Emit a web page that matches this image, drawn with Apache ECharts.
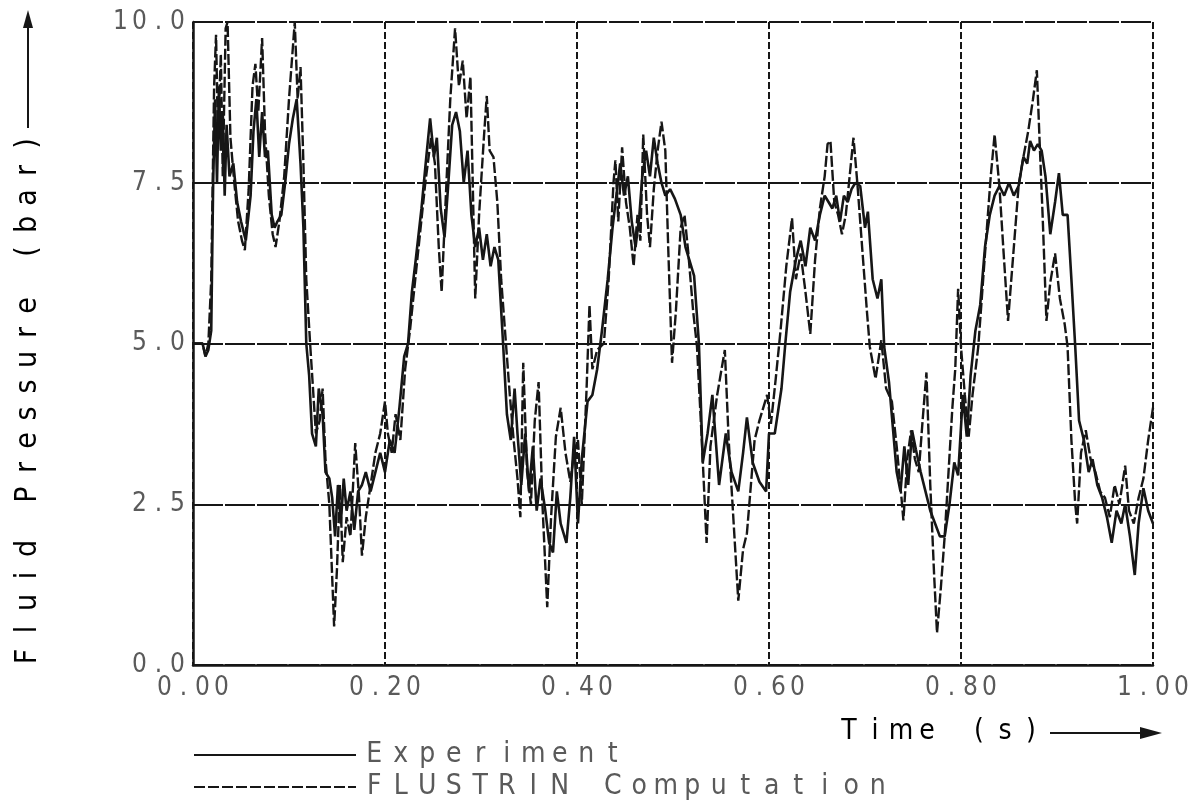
<!DOCTYPE html>
<html>
<head>
<meta charset="utf-8">
<title>Fluid Pressure</title>
<script src="https://cdn.jsdelivr.net/npm/echarts@6/dist/echarts.min.js"></script>
<style>
  html, body { margin: 0; padding: 0; background: #fff; }
  #chart { width: 1195px; height: 808px; }
</style>
</head>
<body>
<div id="chart"></div>
<script>
// tick labels
var xTickLabels = ['0.00', '0.20', '0.40', '0.60', '0.80', '1.00'];
var yTickLabels = ['0.0', '2.5', '5.0', '7.5', '10.0'];

// measured pressure [time s, bar]
var experiment = [
  [0,5.0],[0.010,5.0],[0.013,4.8],[0.016,4.9],[0.019,5.2],[0.021,7.5],[0.023,8.8],[0.025,7.5],[0.027,9.0],[0.029,8.0],
  [0.031,8.6],[0.033,7.3],[0.035,8.4],[0.038,7.6],[0.042,7.8],[0.046,7.2],[0.050,6.9],[0.055,6.6],[0.060,7.3],[0.063,8.3],
  [0.066,8.8],[0.069,7.9],[0.072,8.6],[0.075,7.9],[0.078,8.0],[0.082,7.0],[0.085,6.8],[0.088,6.9],[0.092,7.0],[0.096,7.5],
  [0.100,8.1],[0.104,8.5],[0.108,8.8],[0.112,7.8],[0.115,6.8],[0.118,5.0],
  [0.121,4.5],[0.124,3.6],[0.128,3.4],[0.131,4.3],[0.135,3.9],[0.138,3.0],[0.142,2.9],[0.145,2.6],[0.148,2.0],[0.151,2.8],
  [0.154,2.2],[0.157,2.9],[0.160,2.4],[0.164,2.7],[0.168,2.1],[0.172,2.7],[0.176,2.8],[0.180,3.0],[0.185,2.7],[0.190,3.0],
  [0.195,3.3],[0.200,3.0],[0.205,3.5],[0.210,3.3],[0.215,4.0],[0.220,4.8],[0.224,5.0],
  [0.228,5.8],[0.232,6.3],[0.238,7.1],[0.243,7.9],[0.247,8.5],[0.251,7.9],[0.254,8.2],[0.258,7.1],[0.262,6.65],[0.266,7.5],
  [0.270,8.4],[0.274,8.6],[0.278,8.3],[0.282,7.5],[0.286,8.0],[0.290,7.0],[0.294,6.5],[0.298,6.8],[0.302,6.3],[0.306,6.7],
  [0.310,6.2],[0.314,6.5],[0.318,6.3],[0.323,5.0],
  [0.327,3.9],[0.331,3.5],[0.335,4.3],[0.338,3.6],[0.342,2.8],[0.346,3.6],[0.350,2.7],[0.354,3.4],[0.358,2.4],[0.362,2.9],
  [0.367,2.4],[0.371,1.9],[0.375,1.75],[0.379,2.7],[0.383,2.2],[0.389,1.9],[0.393,2.6],[0.397,3.55],[0.401,2.2],[0.405,3.2],
  [0.411,4.1],[0.416,4.2],[0.421,4.6],[0.426,5.2],
  [0.432,6.0],[0.437,6.8],[0.441,7.3],[0.445,7.8],[0.449,7.3],[0.453,7.6],[0.457,6.9],[0.461,6.5],[0.465,7.0],[0.468,7.6],
  [0.472,8.0],[0.476,7.6],[0.480,8.2],[0.484,7.8],[0.488,7.5],[0.492,7.3],[0.497,7.4],[0.502,7.25],[0.508,7.0],[0.513,6.5],
  [0.517,6.3],[0.522,6.05],[0.527,5.0],
  [0.531,3.15],[0.536,3.6],[0.541,4.2],[0.548,2.8],[0.555,3.6],[0.561,3.0],[0.568,2.7],[0.573,3.3],[0.577,3.85],[0.583,3.15],
  [0.590,2.85],[0.597,2.7],[0.600,3.6],[0.606,3.6],[0.613,4.3],[0.617,5.0],
  [0.622,5.8],[0.628,6.3],[0.633,6.6],[0.638,6.2],[0.643,6.8],[0.648,6.6],[0.653,7.0],[0.658,7.3],[0.662,7.2],[0.666,7.1],
  [0.670,7.3],[0.674,6.9],[0.678,7.3],[0.682,7.2],[0.686,7.4],[0.690,7.5],[0.695,7.45],[0.700,6.8],[0.703,7.05],[0.708,6.0],
  [0.713,5.7],[0.717,6.0],[0.720,4.95],
  [0.725,4.4],[0.729,3.7],[0.733,3.0],[0.737,2.7],[0.741,3.4],[0.745,2.8],[0.749,3.65],[0.753,3.35],[0.758,3.0],[0.763,2.7],
  [0.768,2.4],[0.773,2.2],[0.778,2.0],[0.783,2.0],[0.788,2.5],[0.793,3.15],[0.797,2.95],[0.802,4.2],[0.806,3.55],[0.810,4.5],
  [0.815,5.2],
  [0.820,5.6],[0.825,6.5],[0.830,7.0],[0.835,7.3],[0.840,7.45],[0.845,7.3],[0.850,7.5],[0.855,7.3],[0.860,7.45],[0.865,7.9],
  [0.869,7.8],[0.872,8.15],[0.876,8.0],[0.880,8.1],[0.884,8.0],[0.888,7.6],[0.893,6.7],[0.898,7.2],[0.902,7.65],[0.906,7.0],
  [0.911,7.0],[0.915,6.0],[0.919,4.95],
  [0.923,3.8],[0.928,3.5],[0.933,3.0],[0.937,3.2],[0.942,2.8],[0.947,2.6],[0.952,2.3],[0.957,1.9],[0.962,2.4],[0.967,2.2],
  [0.971,2.5],[0.976,2.0],[0.981,1.4],[0.985,2.2],[0.990,2.75],[0.995,2.4],[1.0,2.2]
];

// FLUSTRIN computed pressure [time s, bar]
var computation = [
  [0,5.0],[0.010,5.0],[0.013,4.8],[0.016,5.0],[0.019,6.0],[0.022,9.0],[0.024,9.8],[0.026,8.2],[0.029,9.5],[0.031,7.6],
  [0.034,9.9],[0.036,10.0],[0.039,8.2],[0.043,7.5],[0.047,6.9],[0.051,6.6],[0.054,6.45],[0.058,7.4],[0.062,9.0],[0.065,9.35],
  [0.068,8.6],[0.072,9.75],[0.075,8.3],[0.079,7.3],[0.083,6.7],[0.086,6.5],[0.090,6.9],[0.095,7.6],[0.100,8.8],[0.104,9.6],
  [0.106,10.0],[0.109,8.8],[0.112,9.3],[0.115,7.8],[0.118,6.0],[0.122,5.0],
  [0.125,4.3],[0.128,3.6],[0.132,3.8],[0.135,4.3],[0.138,3.2],[0.142,2.5],[0.147,0.6],[0.150,1.5],[0.153,2.8],[0.156,1.6],
  [0.160,2.3],[0.164,2.0],[0.169,3.45],[0.173,2.6],[0.176,1.7],[0.180,2.3],[0.185,2.8],[0.190,3.3],[0.195,3.6],[0.200,4.1],
  [0.203,3.6],[0.207,3.3],[0.211,3.9],[0.216,3.5],[0.221,4.6],[0.226,5.2],
  [0.235,6.5],[0.242,7.5],[0.248,8.2],[0.252,7.8],[0.256,6.5],[0.259,5.8],[0.264,7.5],[0.268,8.8],[0.273,9.9],[0.277,9.0],
  [0.281,9.4],[0.285,8.5],[0.289,9.15],[0.294,5.7],[0.298,7.0],[0.303,8.2],[0.306,8.85],[0.309,8.0],[0.313,7.9],[0.317,7.2],
  [0.321,6.0],[0.326,5.0],
  [0.330,4.2],[0.334,3.5],[0.338,2.9],[0.341,2.3],[0.344,4.7],[0.348,3.0],[0.352,2.5],[0.356,3.8],[0.360,4.4],[0.364,2.5],
  [0.369,0.9],[0.373,2.3],[0.378,3.55],[0.383,4.0],[0.388,3.3],[0.393,2.85],[0.397,3.3],[0.401,3.5],[0.405,2.5],[0.410,4.3],
  [0.413,5.6],[0.416,4.6],[0.421,4.9],[0.428,5.0],
  [0.433,6.0],[0.438,7.5],[0.440,7.85],[0.443,6.9],[0.447,8.05],[0.451,7.2],[0.455,6.8],[0.459,6.2],[0.463,7.0],[0.466,6.6],
  [0.469,8.25],[0.473,7.0],[0.476,6.5],[0.480,7.4],[0.484,8.0],[0.488,8.45],[0.492,8.0],[0.495,6.5],[0.499,4.7],[0.503,5.5],
  [0.508,6.8],[0.512,7.0],[0.516,6.4],[0.521,5.5],[0.525,4.95],
  [0.530,3.5],[0.535,1.9],[0.539,3.4],[0.546,4.2],[0.554,4.9],[0.558,3.5],[0.562,2.5],[0.568,1.0],[0.573,1.8],[0.577,2.05],
  [0.585,3.5],[0.590,3.8],[0.594,4.0],[0.598,4.2],[0.602,3.75],[0.607,4.45],[0.612,5.2],
  [0.618,6.2],[0.624,6.95],[0.628,6.0],[0.633,6.4],[0.638,5.8],[0.643,5.15],[0.648,6.3],[0.653,7.1],[0.658,7.6],[0.661,8.1],
  [0.664,8.15],[0.668,7.2],[0.672,7.0],[0.676,6.7],[0.680,7.0],[0.684,7.6],[0.688,8.2],[0.692,7.5],[0.697,6.5],[0.702,5.5],
  [0.705,4.95],
  [0.711,4.45],[0.717,5.05],[0.722,4.3],[0.728,4.1],[0.733,3.4],[0.738,2.6],[0.740,2.25],[0.744,3.2],[0.748,3.65],[0.752,3.2],
  [0.756,3.0],[0.760,3.8],[0.764,4.55],[0.768,2.8],[0.772,1.4],[0.775,0.5],[0.779,1.2],[0.783,2.0],[0.787,3.0],[0.791,4.0],
  [0.794,4.6],[0.797,5.85],[0.800,4.95],[0.804,4.2],[0.808,3.55],[0.812,4.2],[0.818,4.95],
  [0.826,6.6],[0.831,7.6],[0.835,8.25],[0.840,7.45],[0.844,6.5],[0.849,5.35],[0.854,6.3],[0.860,7.45],[0.865,7.9],[0.870,8.3],
  [0.875,8.8],[0.879,9.25],[0.882,8.1],[0.885,7.0],[0.889,5.35],[0.893,5.95],[0.898,6.4],[0.903,5.7],[0.908,5.3],[0.911,4.95],
  [0.915,3.5],[0.919,2.5],[0.921,2.2],
  [0.925,3.3],[0.930,3.65],[0.935,3.2],[0.940,3.0],[0.945,2.7],[0.950,2.6],[0.955,2.3],[0.960,2.8],[0.965,2.5],[0.971,3.1],
  [0.975,2.4],[0.980,2.2],[0.985,2.6],[0.990,2.9],[0.995,3.5],[1.0,4.0]
];

var seriesNames = ['Experiment', 'FLUSTRIN Computation'];

var FONT = "'DejaVu Sans Condensed', 'Liberation Sans Narrow', 'DejaVu Sans', sans-serif";
var INK = '#161616';
var TXT = '#5a5a5a';

// plotter-like lettering: every character in a fixed-width box
function spaced(s){
  var out = '';
  for(var i=0; i<s.length; i++){
    out += '{c|' + s.charAt(i) + '}';
  }
  return out;
}
function charRich(w, size){
  return { c: { width: w, align: 'center', fontSize: size, fontFamily: FONT, color: TXT, lineHeight: size + 2 } };
}

var myChart = echarts.init(document.getElementById('chart'), null, { renderer: 'canvas' });

var option = {
  backgroundColor: '#fff',
  animation: false,
  grid: { left: 193, right: 42, top: 22, bottom: 143, containLabel: false },
  legend: {
    orient: 'vertical',
    left: 188,
    top: 736,
    itemWidth: 162,
    itemHeight: 10,
    itemGap: 4,
    data: seriesNames,
    itemStyle: { opacity: 0 },
    formatter: function(name){ return spaced(name); },
    textStyle: { rich: charRich(26.5, 28) }
  },
  xAxis: {
    type: 'value',
    min: 0,
    max: 1,
    interval: 0.2,
    axisLine: { lineStyle: { color: INK, width: 2.5 } },
    axisTick: { show: false },
    axisLabel: {
      margin: 9,
      formatter: function(v){ return spaced(xTickLabels[Math.round(v / 0.2)]); },
      rich: charRich(19, 26)
    },
    splitLine: { show: true, lineStyle: { color: INK, width: 2, type: [7, 3] } }
  },
  yAxis: {
    type: 'value',
    min: 0,
    max: 10,
    interval: 2.5,
    axisLine: { show: true, lineStyle: { color: INK, width: 2.5 } },
    axisTick: { show: false },
    axisLabel: {
      margin: 6,
      formatter: function(v){ return spaced(yTickLabels[Math.round(v / 2.5)]); },
      rich: charRich(19, 26)
    },
    splitLine: { show: true, lineStyle: { color: INK, width: 2, type: [30, 2] } }
  },
  graphic: [
    {
      type: 'text',
      x: 28, y: 400,
      rotation: Math.PI / 2,
      style: {
        text: spaced('Fluid Pressure (bar)'),
        rich: charRich(27, 30),
        align: 'center',
        verticalAlign: 'middle'
      }
    },
    { type: 'line', shape: { x1: 28, y1: 128, x2: 28, y2: 26 }, style: { stroke: INK, lineWidth: 2 } },
    { type: 'polygon', shape: { points: [[28, 10], [23, 28], [33, 28]] }, style: { fill: INK } },
    {
      type: 'text',
      left: 836, top: 718,
      style: { text: spaced('Time (s)'), rich: charRich(26, 28) }
    },
    { type: 'line', shape: { x1: 1050, y1: 733, x2: 1140, y2: 733 }, style: { stroke: INK, lineWidth: 2 } },
    { type: 'polygon', shape: { points: [[1162, 733], [1140, 727], [1140, 739]] }, style: { fill: INK } }
  ],
  series: [
    {
      name: seriesNames[0],
      type: 'line',
      data: experiment,
      symbol: 'none',
      lineStyle: { color: INK, width: 2.6 },
      itemStyle: { color: INK }
    },
    {
      name: seriesNames[1],
      type: 'line',
      data: computation,
      symbol: 'none',
      lineStyle: { color: INK, width: 2.4, type: [11, 3] },
      itemStyle: { color: INK }
    }
  ]
};

myChart.setOption(option);
</script>
</body>
</html>
